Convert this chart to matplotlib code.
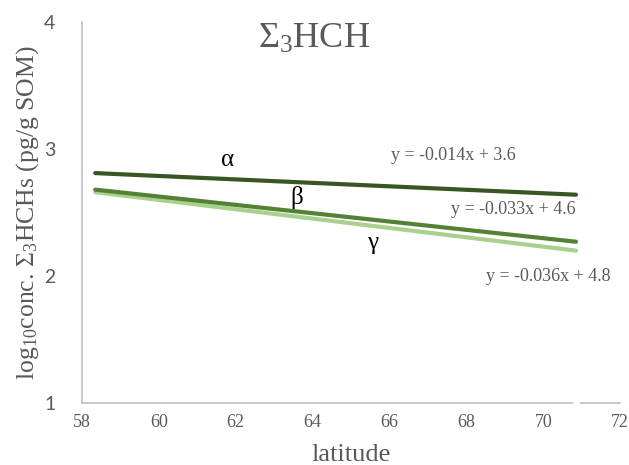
import matplotlib.pyplot as plt

plt.rcParams["mathtext.fontset"] = "custom"
plt.rcParams["mathtext.rm"] = "Liberation Serif"
plt.rcParams["mathtext.it"] = "Liberation Serif"

# latitude endpoints of the fitted lines
lat = [58.35, 70.85]

# log10 conc. at the two ends
alpha_hch = [2.81, 2.64]
beta_hch = [2.68, 2.27]
gamma_hch = [2.66, 2.20]

equations = ["y = -0.014x + 3.6", "y = -0.033x + 4.6", "y = -0.036x + 4.8"]

xticks = [58, 60, 62, 64, 66, 68, 70, 72]
yticks = [1, 2, 3, 4]

grey = "#595959"
serif = "Liberation Serif"

fig = plt.figure(figsize=(6.29, 4.65), dpi=100)
ax = fig.add_axes([0.130, 0.133, 0.856, 0.820])

ax.plot(lat, gamma_hch, color="#A9D18E", lw=3, solid_capstyle="round")
ax.plot(lat, beta_hch, color="#548235", lw=3, solid_capstyle="round")
ax.plot(lat, alpha_hch, color="#375623", lw=3, solid_capstyle="round")

ax.set_xlim(58, 72)
ax.set_ylim(1, 4)
ax.set_xticks(xticks)
ax.set_yticks(yticks)
ax.set_xticklabels([str(v) for v in xticks], fontfamily=serif, fontsize=13, color=grey)
ax.set_yticklabels([str(v) for v in yticks], fontfamily="Lato", fontsize=14, color=grey)
ax.tick_params(length=0)
ax.tick_params(axis="x", pad=8)
ax.tick_params(axis="y", pad=19)

for s in ["top", "right"]:
    ax.spines[s].set_visible(False)
for s in ["left", "bottom"]:
    ax.spines[s].set_color("#BFBFBF")
    ax.spines[s].set_linewidth(1.2)

# small white notch on the x axis where the lines end
ax.plot([70.85], [1], marker="o", ms=4, color="white", clip_on=False, zorder=5)

ax.set_xlabel("latitude", fontfamily=serif, fontsize=19, color=grey, labelpad=9)
ax.set_ylabel(r"log$_{10}$conc. $\Sigma_3$HCHs (pg/g SOM)", fontfamily=serif,
              fontsize=18.5, color=grey, labelpad=2)

ax.text(0.431, 3.86, r"$\Sigma_3$HCH", transform=ax.get_yaxis_transform(),
        ha="center", va="center", fontfamily=serif, fontsize=26, color=grey)

ax.text(61.8, 2.91, "α", ha="center", va="center", fontfamily=serif, fontsize=18, color="black")
ax.text(63.6, 2.62, "β", ha="center", va="center", fontfamily=serif, fontsize=18, color="black")
ax.text(65.55, 2.26, "γ", ha="center", va="center", fontfamily=serif, fontsize=18, color="black")

ax.text(67.66, 2.945, equations[0], ha="center", va="center", fontfamily=serif, fontsize=13, color=grey)
ax.text(69.22, 2.52, equations[1], ha="center", va="center", fontfamily=serif, fontsize=13, color=grey)
ax.text(70.14, 2.00, equations[2], ha="center", va="center", fontfamily=serif, fontsize=13, color=grey)

fig.savefig("out.png", dpi=100)
